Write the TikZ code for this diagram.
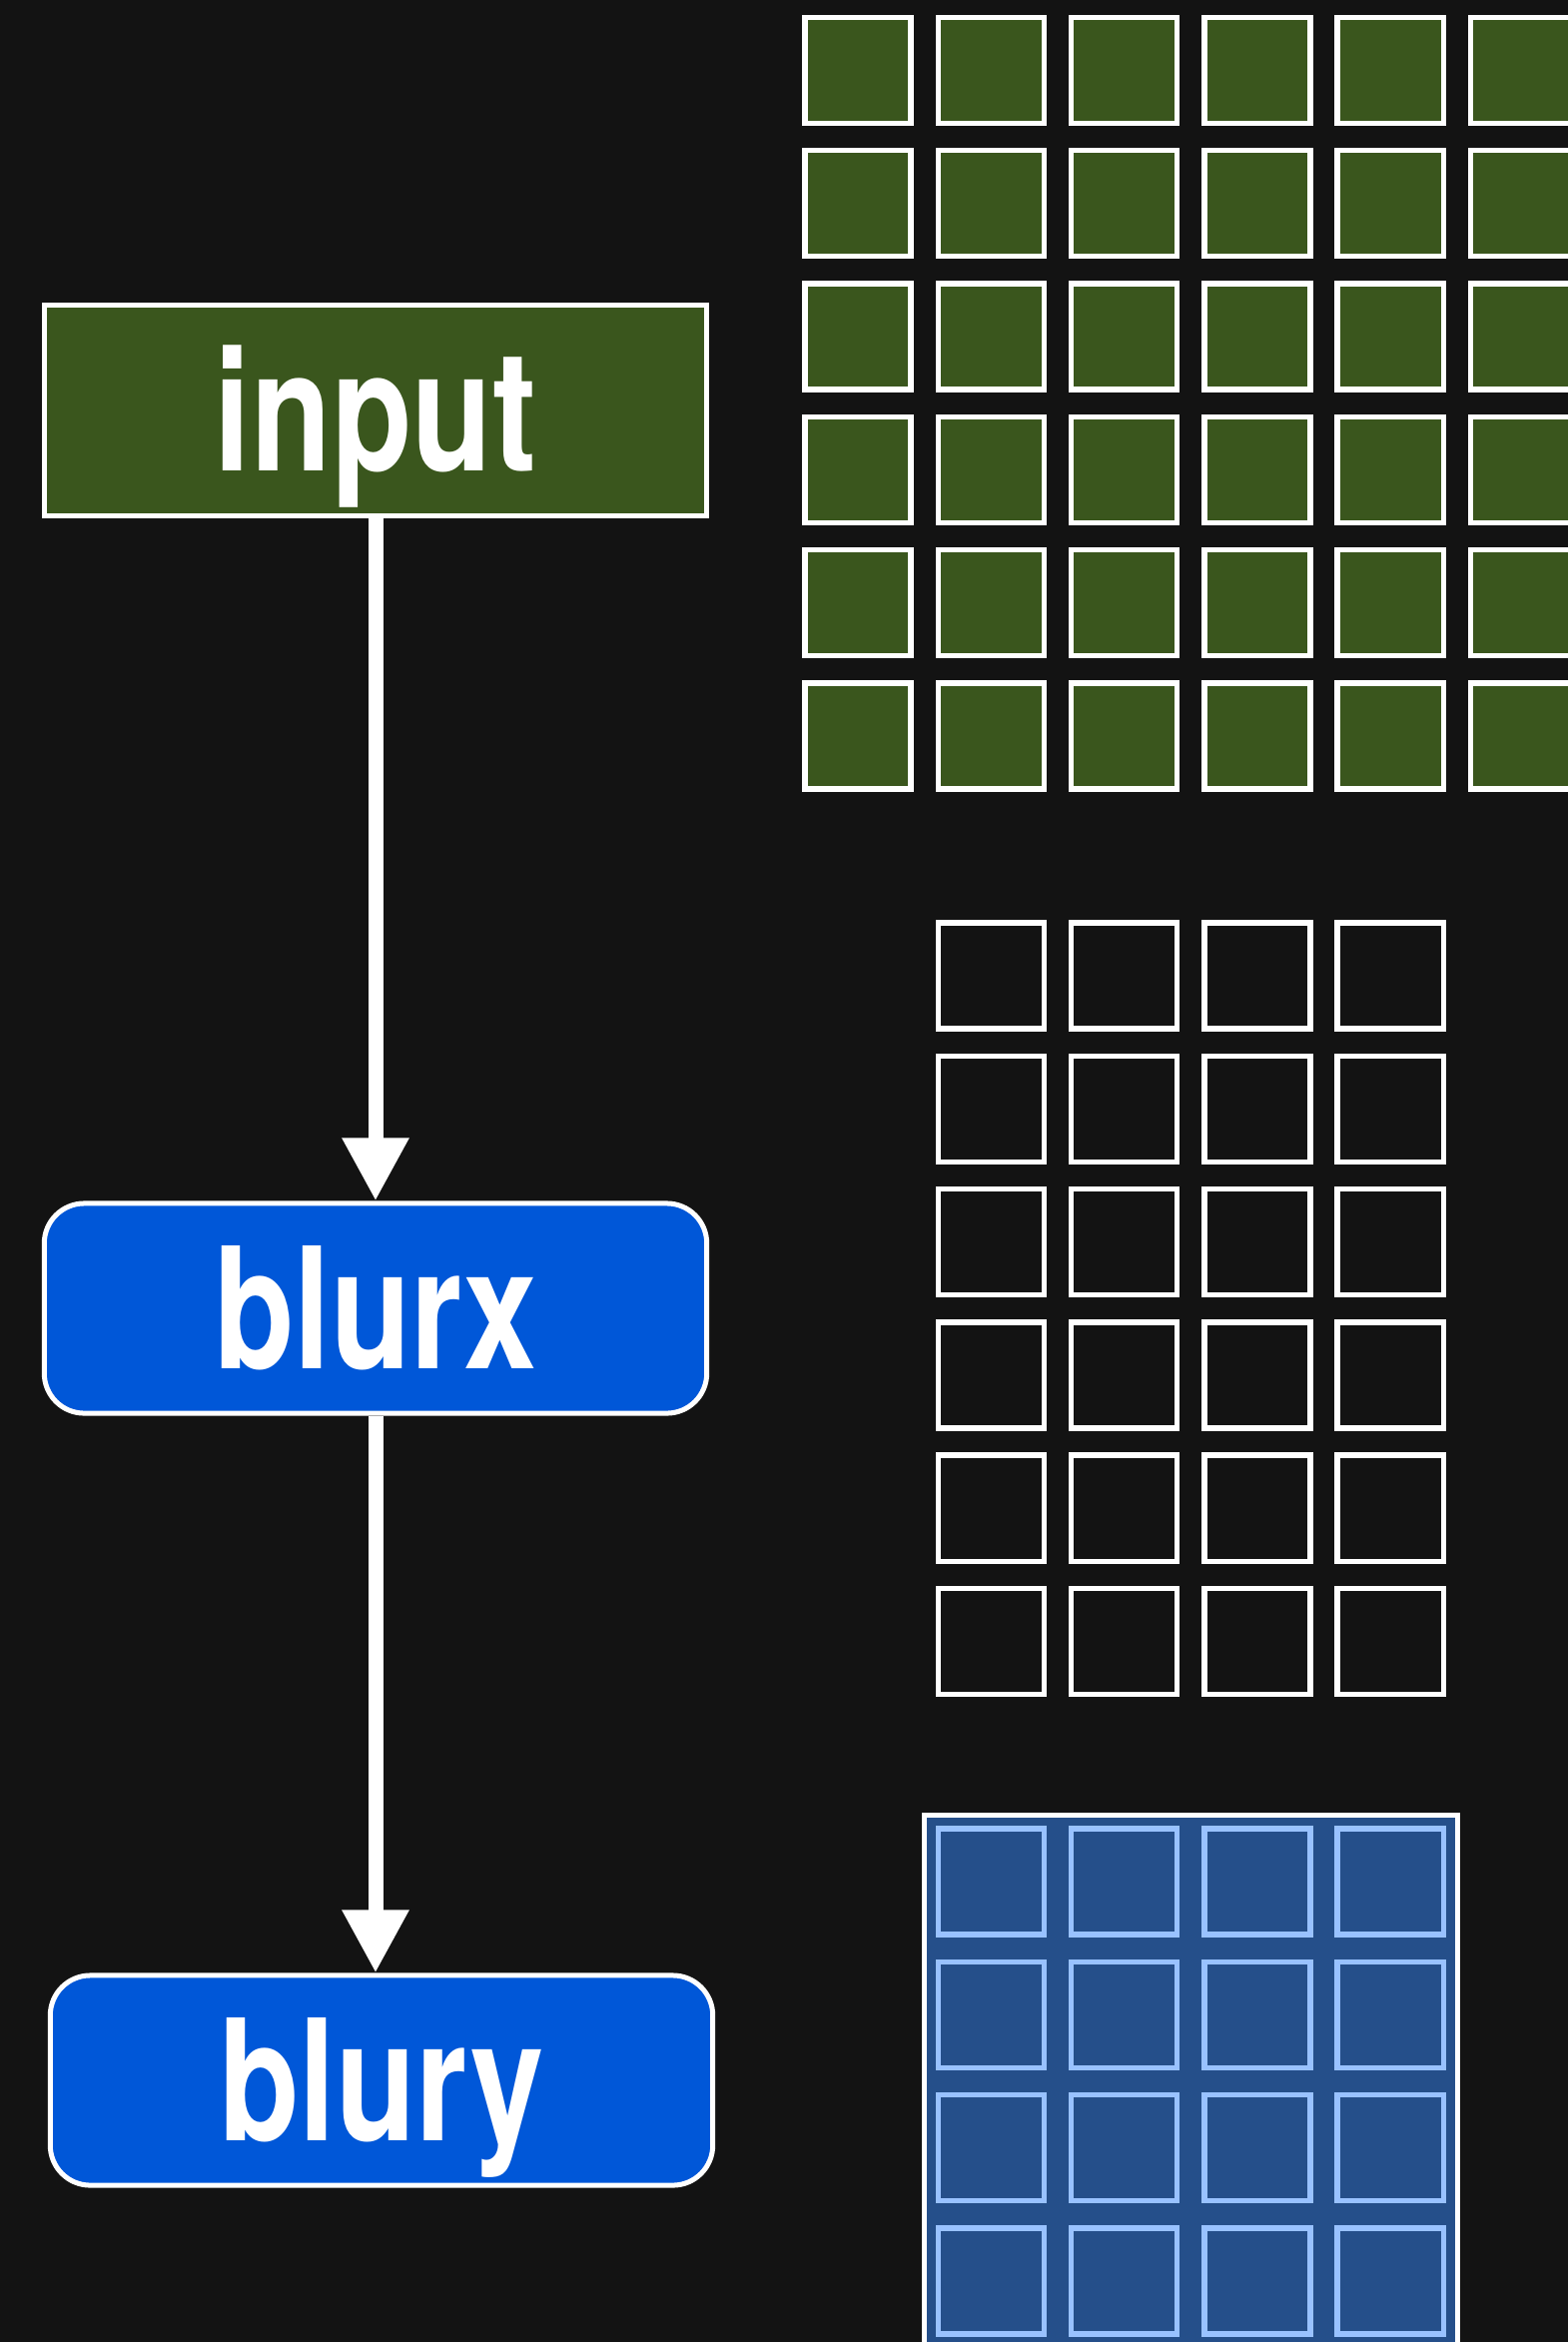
\documentclass[tikz,border=0pt]{standalone}
\usepackage{fontspec}
\newfontfamily\labelfont[FakeStretch=0.78]{TeX Gyre Heros}
\usetikzlibrary{arrows.meta}
\definecolor{bgcol}{RGB}{19,19,19}
\definecolor{ingreen}{RGB}{58,86,29}
\definecolor{passblue}{RGB}{0,87,216}
\definecolor{bufblue}{RGB}{37,79,138}
\definecolor{celledge}{RGB}{153,194,255}

\tikzset{
  stage/.style={draw=white, line width=0.05cm, minimum width=6.63cm, minimum height=2.1cm,
    inner sep=0pt, text=white, text height=1.2cm, text depth=0cm,
    font=\fontsize{48pt}{48pt}\labelfont\bfseries\selectfont},
  pass/.style={stage, fill=passblue, rounded corners=0.4cm},
  cell/.style={draw=white, line width=0.054cm, minimum size=1.06cm, inner sep=0pt},
  incell/.style={cell, fill=ingreen},
  tmpcell/.style={cell, fill=bgcol},
  outcell/.style={cell, draw=celledge, fill=bufblue},
  flow/.style={draw=white, line width=0.15cm, -{Triangle[length=0.63cm, width=0.63cm]}}
}

\begin{document}
\begin{tikzpicture}[x=0.01cm, y=-0.01cm]
\useasboundingbox (0,0) rectangle (1569,2345);
\clip (-10,-10) rectangle (1579,2355);
\fill[bgcol] (-10,-10) rectangle (1579,2355);

% stages
\node[stage, fill=ingreen] (input) at (376,411) {input};
\node[pass] (blurx) at (376,1310) {blurx};
\node[pass] (blury) at (382,2083) {blury};

\draw[flow] (input) -- (blurx);
\draw[flow] (blurx) -- (blurx.south |- blury.north);

% input buffer
\foreach \r in {0,...,5}
  \foreach \c in {0,...,5}
    \node[incell] (in-\r-\c) at (859+133.3*\c, 70.4+133.3*\r) {};

% intermediate buffer
\foreach \r in {0,...,5}
  \foreach \c in {0,...,3}
    \node[tmpcell] (tmp-\r-\c) at (992.3+133.3*\c, 977+133.3*\r) {};

% output buffer
\node[draw=white, line width=0.054cm, fill=bufblue, minimum width=5.335cm, minimum height=5.65cm] (buf) at (1192.3,2100) {};
\foreach \r in {0,...,3}
  \foreach \c in {0,...,3}
    \node[outcell] (out-\r-\c) at (992.3+133.3*\c, 1884+133.3*\r) {};
\end{tikzpicture}
\end{document}
